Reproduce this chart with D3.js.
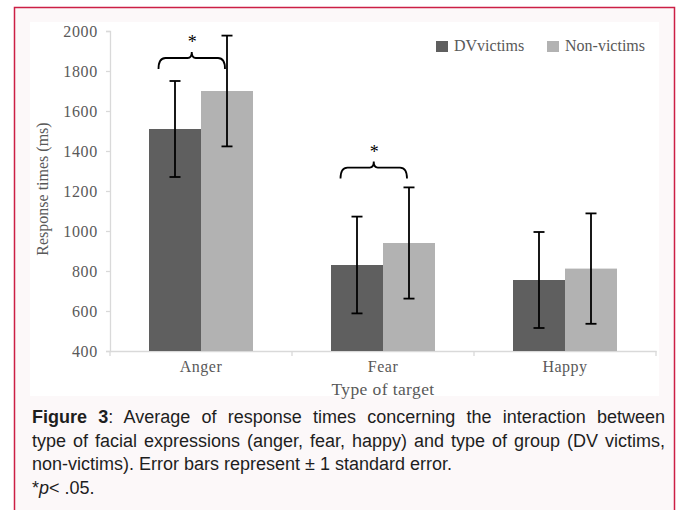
<!DOCTYPE html>
<html>
<head>
<meta charset="utf-8">
<script src="https://cdn.jsdelivr.net/npm/d3@7"></script>
<style>
  body { margin: 0; background: #ffffff; }
  #wrap { position: relative; width: 681px; height: 510px; overflow: hidden; }
  #caption {
    position: absolute; left: 32px; top: 406px; width: 633px;
    font-family: "Liberation Sans", Arial, sans-serif; font-size: 18px;
    line-height: 23.5px; color: #1e1e1e;
  }
  #caption .j { text-align: justify; text-align-last: justify; white-space: nowrap; }
  #caption div { height: 23.5px; }
</style>
</head>
<body>
<div id="wrap">
  <div id="chart"></div>
  <div id="caption">
    <div class="j"><b>Figure 3</b>: Average of response times concerning the interaction between</div>
    <div class="j">type of facial expressions (anger, fear, happy) and type of group (DV victims,</div>
    <div>non-victims). Error bars represent ± 1 standard error.</div>
    <div>*<i>p</i>&lt; .05.</div>
  </div>
</div>
<script>
// Data
var categories = ["Anger", "Fear", "Happy"];
var groups = ["DVvictims", "Non-victims"];
var dvMeans = [1510, 830, 755];
var dvErrors = [240, 242, 240];
var nonMeans = [1700, 940, 812];
var nonErrors = [277, 278, 276];
var yTicks = [400, 600, 800, 1000, 1200, 1400, 1600, 1800, 2000];

// significance braces (category, value where the brace ends sit)
var sigCats = ["Anger", "Fear"];
var sigLevels = [1810, 1262];

var svgWidth = 681;
var svgHeight = 510;

var margin = { top: 31, right: 25, bottom: 159, left: 110 };
var width = 656 - margin.left;
var height = 351 - margin.top;

var colors = ["#5f5f5f", "#b2b2b2"];
var serif = "'Liberation Serif', 'Times New Roman', serif";

var svg = d3.select("#chart")
  .append("svg")
  .attr("width", svgWidth)
  .attr("height", svgHeight)
  .style("display", "block");

// outer frame
svg.append("rect")
  .attr("x", 14.5).attr("y", 7.5)
  .attr("width", 660).attr("height", 530)
  .attr("fill", "#fcf8f9")
  .attr("stroke", "#cc1f45")
  .attr("stroke-width", 1.5);

// chart area
svg.append("rect")
  .attr("x", 30).attr("y", 22)
  .attr("width", 629).attr("height", 374)
  .attr("fill", "#ffffff");

var chartGroup = svg.append("g")
  .attr("transform", `translate(${margin.left}, ${margin.top})`);

// scales
var x0 = d3.scaleBand().domain(categories).range([0, width]).paddingInner(0.4286).paddingOuter(0.2143);
var x1 = d3.scaleBand().domain(groups).range([0, x0.bandwidth()]);
var y = d3.scaleLinear().domain([400, 2000]).range([height, 0]);

// axes
var leftAxis = d3.axisLeft(y).tickValues(yTicks).tickFormat(d3.format("d")).tickSize(4).tickPadding(8);
var yAxis = chartGroup.append("g").call(leftAxis);
yAxis.select(".domain").attr("stroke", "#d9d9d9").attr("stroke-width", 1.3);
yAxis.selectAll(".tick line").attr("stroke", "#d9d9d9").attr("stroke-width", 1.3);
yAxis.selectAll(".tick text")
  .attr("font-family", serif).attr("font-size", 16)
  .attr("letter-spacing", "0.7px")
  .attr("fill", "#595959");

var bottomAxis = d3.axisBottom(x0).tickSize(0).tickPadding(10);
var xAxis = chartGroup.append("g")
  .attr("transform", `translate(0, ${height})`)
  .call(bottomAxis);
xAxis.select(".domain").attr("stroke", "#d9d9d9").attr("stroke-width", 1.3);
xAxis.selectAll(".tick text")
  .attr("font-family", serif).attr("font-size", 16)
  .attr("letter-spacing", "0.5px")
  .attr("fill", "#595959");

// category separator ticks
var step = x0.step();
xAxis.selectAll(".sep")
  .data(d3.range(categories.length + 1))
  .enter()
  .append("line")
  .attr("x1", d => d * step).attr("x2", d => d * step)
  .attr("y1", 0).attr("y2", 5)
  .attr("stroke", "#d9d9d9").attr("stroke-width", 1.3);

// bars
var rows = categories.map(function(c, i) {
  return [
    { cat: c, group: groups[0], mean: dvMeans[i], err: dvErrors[i], k: 0 },
    { cat: c, group: groups[1], mean: nonMeans[i], err: nonErrors[i], k: 1 }
  ];
});
var flat = d3.merge(rows);

chartGroup.selectAll("rect.bar")
  .data(flat)
  .enter()
  .append("rect")
  .attr("class", "bar")
  .attr("x", d => x0(d.cat) + x1(d.group))
  .attr("y", d => y(d.mean))
  .attr("width", x1.bandwidth())
  .attr("height", d => height - y(d.mean))
  .attr("fill", d => colors[d.k]);

// error bars
var cap = 5.5;
var errG = chartGroup.selectAll("g.err")
  .data(flat)
  .enter()
  .append("g")
  .attr("class", "err")
  .attr("stroke", "#000")
  .attr("stroke-width", 1.8);

errG.append("line")
  .attr("x1", d => x0(d.cat) + x1(d.group) + x1.bandwidth() / 2)
  .attr("x2", d => x0(d.cat) + x1(d.group) + x1.bandwidth() / 2)
  .attr("y1", d => y(d.mean + d.err))
  .attr("y2", d => y(d.mean - d.err));
[1, -1].forEach(function(s) {
  errG.append("line")
    .attr("x1", d => x0(d.cat) + x1(d.group) + x1.bandwidth() / 2 - cap)
    .attr("x2", d => x0(d.cat) + x1(d.group) + x1.bandwidth() / 2 + cap)
    .attr("y1", d => y(d.mean + s * d.err))
    .attr("y2", d => y(d.mean + s * d.err));
});

// significance braces
var sig = sigCats.map((c, i) => ({ cat: c, level: sigLevels[i] }));
function bracePath(d) {
  var xa = x0(d.cat) + 9.5;
  var xb = x0(d.cat) + 76;
  var xm = (xa + xb) / 2;
  var yb = y(d.level);
  var yh = yb - 11;
  return `M${xa},${yb} Q${xa},${yh} ${xa + 7},${yh} L${xm - 4},${yh} Q${xm},${yh} ${xm},${yh - 6}` +
    ` Q${xm},${yh} ${xm + 4},${yh} L${xb - 7},${yh} Q${xb},${yh} ${xb},${yb}`;
}
chartGroup.selectAll("path.brace")
  .data(sig)
  .enter()
  .append("path")
  .attr("class", "brace")
  .attr("d", bracePath)
  .attr("fill", "none")
  .attr("stroke", "#000")
  .attr("stroke-width", 1.8);

chartGroup.selectAll("text.star")
  .data(sig)
  .enter()
  .append("text")
  .attr("class", "star")
  .attr("x", d => x0(d.cat) + (9.5 + 76) / 2 + 0.5)
  .attr("y", d => y(d.level) - 11 - 10)
  .attr("text-anchor", "middle")
  .attr("font-family", serif)
  .attr("font-size", 18)
  .attr("fill", "#000")
  .text("*");

// legend
var legendX = [326, 437];
var legend = chartGroup.selectAll("g.legend")
  .data(groups)
  .enter()
  .append("g")
  .attr("class", "legend")
  .attr("transform", (d, i) => `translate(${legendX[i]}, 10)`);
legend.append("rect")
  .attr("x", 0).attr("y", 0)
  .attr("width", 12).attr("height", 11)
  .attr("fill", (d, i) => colors[i]);
legend.append("text")
  .attr("x", 18).attr("y", 10)
  .attr("font-family", serif).attr("font-size", 16)
  .attr("fill", "#595959")
  .text(d => d);

// axis labels
chartGroup.append("text")
  .attr("transform", "rotate(-90)")
  .attr("x", 0 - (height / 2) + 2)
  .attr("y", 43 - margin.left + 5)
  .attr("text-anchor", "middle")
  .attr("font-family", serif).attr("font-size", 16)
  .attr("fill", "#595959")
  .text("Response times (ms)");

chartGroup.append("text")
  .attr("x", width / 2)
  .attr("y", height + 44)
  .attr("text-anchor", "middle")
  .attr("font-family", serif).attr("font-size", 17.5)
  .attr("letter-spacing", "0.4px")
  .attr("fill", "#595959")
  .text("Type of target");
</script>
</body>
</html>
